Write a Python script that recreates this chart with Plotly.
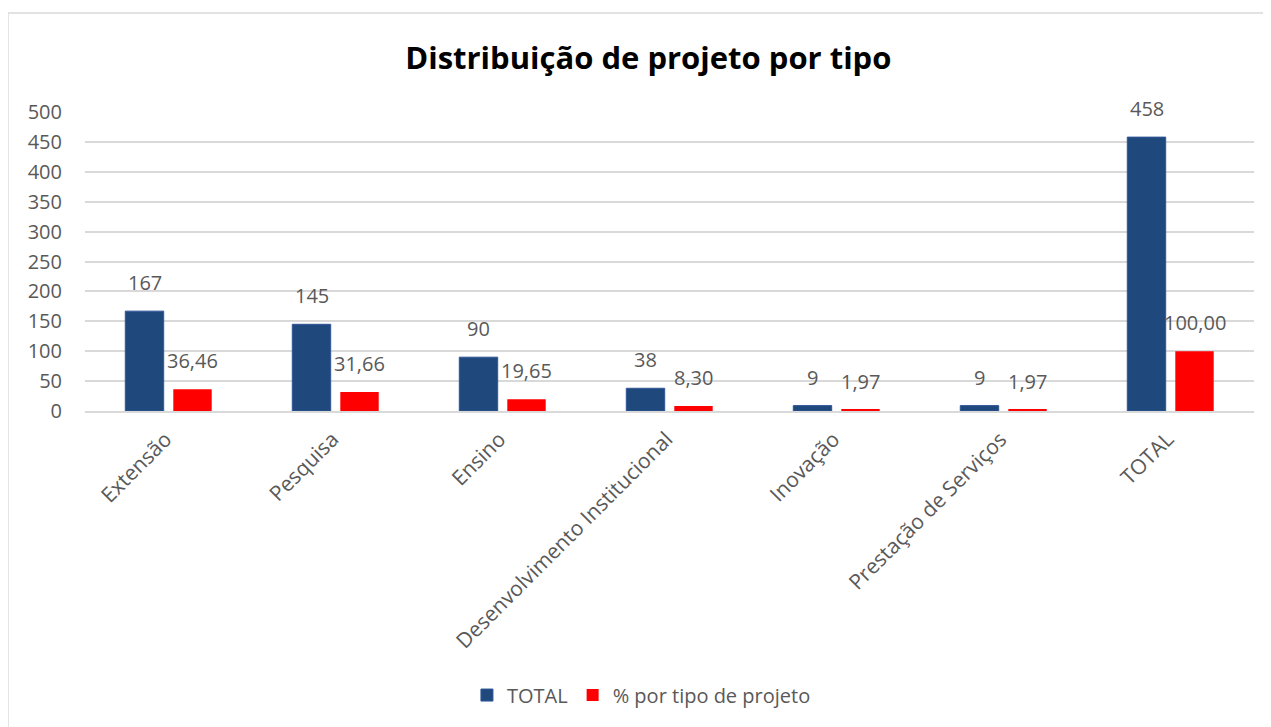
import plotly.graph_objects as go

# ---------------- DATA ----------------
categorias = ["Extensão", "Pesquisa", "Ensino", "Desenvolvimento Institucional",
              "Inovação", "Prestação de Serviços", "TOTAL"]
total = [167, 145, 90, 38, 9, 9, 458]
percentual = [36.46, 31.66, 19.65, 8.30, 1.97, 1.97, 100.00]
y_ticks = [0, 50, 100, 150, 200, 250, 300, 350, 400, 450, 500]

AZUL = "#1f497d"
VERMELHO = "#ff0000"
CINZA = "#595959"
FONTE = "Open Sans, Noto Sans, sans-serif"

fig = go.Figure()
fig.add_trace(go.Bar(
    x=categorias, y=total, name="TOTAL",
    marker=dict(color=AZUL, line=dict(color="#2f5597", width=1)),
))
fig.add_trace(go.Bar(
    x=categorias, y=percentual, name="% por tipo de projeto",
    marker=dict(color=VERMELHO, line=dict(width=0)),
))

# rótulos de dados (formato pt-BR)
for cat, v in zip(categorias, total):
    fig.add_annotation(x=cat, y=v, text=str(v), showarrow=False,
                       xshift=-24, yshift=13, yanchor="bottom",
                       font=dict(size=20, color=CINZA, family=FONTE))
for cat, v in zip(categorias, percentual):
    fig.add_annotation(x=cat, y=v, text=f"{v:.2f}".replace(".", ","), showarrow=False,
                       xshift=24, yshift=13, yanchor="bottom",
                       font=dict(size=20, color=CINZA, family=FONTE))

# moldura do gráfico (topo e esquerda)
fig.add_shape(type="line", xref="paper", yref="paper",
              x0=-0.0659, x1=1.05, y0=1.331, y1=1.331,
              line=dict(color="#d9d9d9", width=1.5))
fig.add_shape(type="line", xref="paper", yref="paper",
              x0=-0.0659, x1=-0.0659, y0=1.331, y1=-1.2,
              line=dict(color="#d9d9d9", width=1.5))

fig.update_layout(
    width=1263, height=719,
    barmode="group", bargap=0.425, bargroupgap=0.2,
    plot_bgcolor="white", paper_bgcolor="white",
    margin=dict(l=77, r=17, t=104, b=316),
    font=dict(family=FONTE, color=CINZA, size=20),
    title=dict(text="<b>Distribuição de projeto por tipo</b>",
               x=0.507, xanchor="center", y=0.93, yanchor="middle",
               font=dict(size=31, color="#000000", family=FONTE)),
    xaxis=dict(tickangle=-45, showgrid=False, showline=True,
               linecolor="#d9d9d9", linewidth=1.5,
               ticklabelshift=-3, ticklabelstandoff=6,
               tickfont=dict(size=21, color=CINZA)),
    yaxis=dict(range=[0, 500], tickvals=y_ticks, showgrid=True,
               gridcolor="#d9d9d9", gridwidth=1.5, zeroline=False,
               ticklabelstandoff=22,
               tickfont=dict(size=20, color=CINZA)),
    legend=dict(orientation="h", x=0.476, xanchor="center",
                y=-0.95, yanchor="middle",
                font=dict(size=20, color=CINZA), itemwidth=30,
                traceorder="normal"),
)

fig.write_html("out.html")
